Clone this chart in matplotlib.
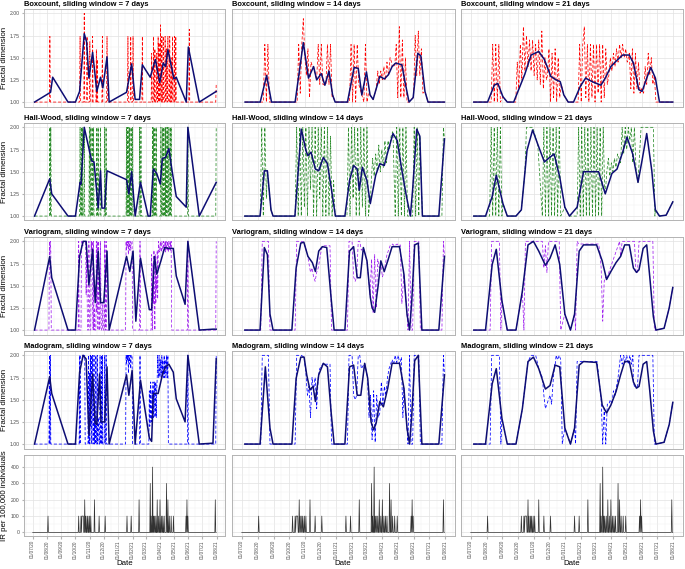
import numpy as np
import matplotlib.pyplot as plt
import matplotlib.dates as mdates
from datetime import datetime

plt.rcParams['font.family'] = ['Liberation Sans', 'DejaVu Sans']

START = mdates.date2num(datetime(2020, 7, 1))   # day 0
LAST_DAY = 395

# ---- incidence rate (per 100,000), days since 01/07/20 with a non-zero value
IR_DAYS = [33, 99, 104, 106, 107, 108, 109, 112, 114, 117, 119, 122, 125, 133, 143,
           156, 203, 212, 229, 253, 255, 258, 260, 262, 265, 268, 271, 274, 277,
           280, 283, 288, 291, 294, 298, 303, 330, 332, 334, 393]
IR_VALUES = [100, 100, 100, 100, 100, 100, 100, 200, 100, 100, 100, 100, 100, 200, 100,
             100, 100, 100, 200, 300, 100, 400, 100, 100, 100, 200, 100, 200, 100,
             100, 100, 300, 200, 100, 100, 100, 100, 200, 100, 200]

# ---- smoothed fractal dimension (solid navy line): (day, value)
BOX7_MEAN = [(4, 1.0), (38.5, 1.11), (43, 1.28), (76, 1.0), (92, 1.0), (101, 1.12), (111, 1.77),
             (116, 1.68), (121, 1.27), (129, 1.56), (138, 1.12), (146, 1.28), (151, 1.16), (160, 1.51),
             (164.5, 1.0), (202, 1.11), (213, 1.43), (220.5, 1.03), (230, 1.03), (236, 1.42),
             (253, 1.28), (264, 1.48), (273.5, 1.22), (281, 1.44), (286, 1.40), (291, 1.59),
             (304, 1.26), (309, 1.28), (330.5, 1.0), (335, 1.62), (358.5, 1.0), (395, 1.12)]
BOX14_MEAN = [(6.5, 1.0), (36, 1.0), (48.5, 1.30), (58, 1.0), (104, 1.0), (120, 1.67), (130, 1.27),
              (140, 1.40), (146, 1.25), (155, 1.32), (162, 1.19), (170, 1.35), (177, 1.08), (182, 1.0),
              (206, 1.0), (219, 1.39), (227, 1.38), (234, 1.08), (243, 1.34), (250, 1.08), (256, 1.03),
              (269, 1.29), (278, 1.26), (286, 1.31), (293, 1.40), (300, 1.44), (306, 1.43), (312, 1.42),
              (318, 1.23), (326, 1.0), (334, 1.05), (343, 1.55), (349, 1.52), (357, 1.12), (363, 1.0),
              (395, 1.0)]
BOX21_MEAN = [(6, 1.0), (33, 1.0), (46, 1.19), (53, 1.21), (63, 1.06), (71.5, 1.0), (84, 1.0),
              (105.5, 1.31), (118, 1.53), (133, 1.57), (144, 1.48), (156.5, 1.29), (167, 1.25),
              (175, 1.23), (182, 1.08), (190.5, 1.0), (201, 1.0), (214.5, 1.18), (224.5, 1.27),
              (237.5, 1.23), (246, 1.21), (254.5, 1.19), (263, 1.27), (274, 1.40), (284, 1.46),
              (297, 1.53), (310, 1.53), (318, 1.44), (328.5, 1.14), (335, 1.12), (344, 1.27),
              (352, 1.39), (361, 1.27), (369, 1.0), (395, 1.0)]
HW7_MEAN = [(4, 1.0), (36.7, 1.42), (41, 1.25), (76, 1.0), (92, 1.0), (102, 1.38), (104, 1.36),
            (111, 2.0), (127, 1.62), (132, 1.61), (141, 1.09), (146, 1.51), (149, 1.09), (155, 1.09),
            (160, 1.51), (202, 1.41), (207, 1.25), (213, 1.50), (220.5, 1.0), (232, 1.38),
            (248.5, 1.0), (253, 1.0), (259.6, 1.53), (267, 1.48), (274.6, 1.36), (279, 1.65),
            (286, 1.66), (293, 1.76), (300, 1.51), (309, 1.22), (330.5, 1.10), (334, 2.0),
            (358.5, 1.0), (395, 1.38)]
HW14_MEAN = [(6, 1.0), (35.7, 1.0), (44, 1.51), (50, 1.51), (57, 1.07), (61, 1.0), (103.6, 1.0),
             (116, 1.98), (121, 1.85), (125, 1.74), (129, 1.68), (135, 1.72), (143.5, 1.53), (150, 1.51),
             (159, 1.66), (167, 1.59), (174, 1.33), (182.6, 1.0), (201, 1.0), (210, 1.40), (218, 1.57),
             (225, 1.53), (229, 1.29), (235, 1.55), (244, 1.40), (250.5, 1.14), (261, 1.46),
             (269, 1.59), (277.7, 1.57), (284.5, 1.72), (294.7, 1.93), (303, 1.85), (311.6, 1.53),
             (320, 1.25), (328.6, 1.0), (333, 1.3), (341, 1.98), (347, 1.9), (352, 1.0), (384, 1.0),
             (395, 1.87)]
HW21_MEAN = [(6, 1.0), (29, 1.0), (42, 1.22), (50, 1.46), (63, 1.14), (71.5, 1.0), (88.5, 1.0),
             (99, 1.07), (110, 1.74), (121, 1.97), (131, 1.81), (144, 1.61), (152, 1.65), (163, 1.70),
             (174, 1.44), (184, 1.10), (193, 1.0), (208, 1.10), (220.5, 1.50), (233, 1.50), (250, 1.50),
             (263, 1.25), (276, 1.48), (286, 1.53), (297, 1.72), (305.5, 1.89), (316.6, 1.70),
             (327, 1.38), (335, 1.63), (344, 1.93), (354, 1.51), (361, 1.07), (369, 1.0),
             (382, 1.01), (395, 1.16)]
VAR7_MEAN = [(4, 1.0), (36.7, 1.83), (41, 1.59), (76, 1.0), (92, 1.0), (101, 1.83), (108.5, 2.0),
             (115, 2.0), (121, 1.51), (129, 1.91), (134.6, 1.31), (141, 1.89), (146, 1.31), (153, 1.31),
             (160, 1.89), (164.5, 1.0), (202, 1.83), (209, 1.66), (216, 1.89), (222, 1.10), (232, 1.81),
             (251, 1.23), (256, 1.23), (262, 1.83), (267, 1.63), (276, 1.78), (284, 1.93), (293, 1.92),
             (302.6, 1.92), (309, 1.61), (328, 1.29), (334, 2.0), (358.5, 1.0), (388, 1.01),
             (395, 1.01)]
VAR14_MEAN = [(6, 1.0), (35.7, 1.0), (44, 1.93), (50, 1.85), (55, 1.18), (61, 1.0), (97.7, 1.0),
              (106, 1.70), (115, 1.98), (121, 1.99), (129, 1.83), (137.6, 1.76), (143.5, 1.66),
              (150, 1.89), (157, 1.94), (165.6, 1.93), (174, 1.37), (180, 1.0), (201, 1.0),
              (210, 1.89), (218, 1.94), (225, 1.59), (231, 1.59), (237, 1.93), (244, 1.78),
              (250.5, 1.37), (254, 1.25), (259, 1.20), (266, 1.51), (271, 1.78), (277.7, 1.66),
              (284.5, 1.78), (293, 1.94), (307.4, 1.94), (316, 1.63), (322, 1.18), (327, 1.0),
              (331, 1.3), (337, 1.96), (344, 1.98), (351, 1.0), (384, 1.0), (395, 1.83)]
VAR21_MEAN = [(6, 1.0), (29, 1.0), (42, 1.74), (50, 1.91), (61, 1.33), (71.5, 1.0), (88.5, 1.0),
              (101, 1.44), (112, 1.96), (122.6, 2.0), (133, 1.89), (146, 1.73), (155, 1.81),
              (165, 1.96), (174, 1.74), (184, 1.18), (195, 1.0), (203, 1.18), (212, 1.89),
              (220.5, 1.96), (246, 1.96), (257, 1.78), (265.6, 1.57), (274, 1.66), (284, 1.76),
              (293, 1.83), (301, 1.96), (310, 1.96), (318, 1.70), (324, 1.65), (329, 1.68),
              (337, 1.92), (344, 1.96), (350, 1.6), (357, 1.15), (362, 1.0), (378, 1.02),
              (388, 1.25), (395, 1.48)]
MAD7_MEAN = [(4, 1.0), (36.7, 1.76), (41, 1.57), (76, 1.0), (92, 1.0), (101, 1.81), (108.5, 2.0),
             (115, 1.96), (121, 1.10), (129, 1.79), (134.6, 1.23), (138, 1.22), (144, 1.79),
             (147, 1.25), (155, 1.25), (160, 1.87), (164.5, 1.0), (202, 1.78), (207, 1.55),
             (214, 1.83), (220.5, 1.0), (232, 1.72), (251, 1.07), (256, 1.03), (259.6, 1.57),
             (270, 1.57), (280, 1.80), (286, 1.87), (293, 1.90), (302.6, 1.81), (309, 1.51),
             (328, 1.25), (334, 2.0), (358.5, 1.0), (388, 1.01), (395, 1.96)]
MAD14_MEAN = [(6, 1.0), (35.7, 1.0), (46, 1.87), (55, 1.18), (61, 1.0), (97.7, 1.0), (106, 1.74),
              (115, 1.98), (121.5, 1.98), (126.6, 1.78), (133, 1.61), (139, 1.65), (143.5, 1.48),
              (150, 1.78), (159, 1.91), (167, 1.87), (174, 1.37), (180, 1.0), (201, 1.0),
              (210, 1.87), (218, 1.89), (225, 1.55), (232, 1.55), (239.5, 1.91), (245.5, 1.74),
              (252, 1.25), (257, 1.16), (262, 1.24), (269, 1.48), (276, 1.42), (284.5, 1.63),
              (293, 1.91), (307.4, 1.91), (316, 1.63), (322, 1.18), (327, 1.0), (331, 1.3),
              (337, 1.94), (344, 2.0), (351, 1.0), (384, 1.0), (395, 1.78)]
MAD21_MEAN = [(6, 1.0), (29, 1.0), (42, 1.68), (50, 1.85), (61, 1.29), (71.5, 1.0), (88.5, 1.0),
              (101, 1.40), (112, 1.93), (122.6, 1.98), (133, 1.85), (146, 1.62), (155, 1.66),
              (165, 1.89), (174, 1.87), (184, 1.18), (195, 1.0), (203, 1.18), (212, 1.89),
              (220.5, 1.93), (246, 1.92), (257, 1.44), (265.6, 1.35), (274, 1.44), (284, 1.59),
              (293, 1.78), (301, 1.93), (310, 1.93), (318, 1.70), (324, 1.63), (329, 1.65),
              (337, 1.90), (344, 1.93), (350, 1.6), (357, 1.15), (362, 1.0), (378, 1.02),
              (388, 1.22), (395, 1.47)]

# ---- unsmoothed fractal dimension (dashed line): runs of (first day, values),
# one value per day in the 7-day column, one per 3 days in the 14/21-day columns
BOX7_RAW = [(4, [1.0]), (36, [1.0, 1.74, 1.0]), (101, [1.0, 1.74, 1.0]), (110, [1.0, 2.0, 1.0]),
            (116, [1.0, 1.74, 1.0]), (122, [1.0, 1.68, 1.0]), (128, [1.0, 1.74, 1.0]),
            (136, [1.0, 1.59, 1.0, 1.48, 1.0]), (149, [1.0, 1.74, 1.0]), (159, [1.0, 1.74, 1.0]),
            (204, [1.0, 1.74, 1.0]), (210, [1.0, 1.74, 1.0]), (215, [1.0, 1.74, 1.0]),
            (235, [1.0, 1.74, 1.0]),
            (255, [1.0, 1.55, 1.0, 1.0, 1.0, 1.74, 1.0, 1.0, 1.6, 1.0, 1.0, 1.0, 1.55, 1.0, 1.0,
                   1.74, 1.0, 1.67, 1.0, 1.0, 1.87, 1.0, 1.0, 1.74, 1.0, 1.0, 1.74, 1.0, 1.0, 1.0,
                   1.74, 1.0, 1.0, 1.6, 1.0, 1.0, 1.74, 1.0, 1.0, 1.0, 1.74, 1.0, 1.0, 1.5, 1.0,
                   1.0, 1.74, 1.0, 1.0, 1.0, 1.74, 1.0, 1.0, 1.74, 1.0]),
            (336, [1.0, 1.82, 1.0]), (394, [1.0, 1.21])]
BOX14_RAW = [(42, [1.0, 1.65, 1.0, 1.65, 1.0]),
             (108, [1.0, 1.65, 1.1, 1.65, 1.94, 1.5, 1.3, 1.6, 1.05, 1.45, 1.4]),
             (146, [1.25, 1.65, 1.2, 1.65, 1.2]),
             (164, [1.2, 1.65, 1.2, 1.65, 1.05]),
             (210, [1.0, 1.65, 1.0, 1.65, 1.0, 1.65, 1.2]),
             (238, [1.0, 1.65, 1.0, 1.1]),
             (262, [1.15, 1.35, 1.2, 1.35, 1.25, 1.4, 1.25, 1.45, 1.3, 1.5, 1.45]),
             (298, [1.4, 1.65, 1.05, 1.85, 1.05, 1.7, 1.05, 1.5, 1.0]),
             (335, [1.1, 1.75, 1.3, 1.8, 1.3, 1.6, 1.1])]
BOX21_RAW = [(40, [1.0, 1.65, 1.0, 1.65, 1.0, 1.65, 1.0]),
             (88, [1.0, 1.45, 1.15, 1.65, 1.25, 1.85, 1.35, 1.75, 1.4, 1.7, 1.35, 1.7, 1.3, 1.65,
                   1.25, 1.7, 1.2, 1.8, 1.15, 1.5, 1.25]),
             (150, [1.3, 1.6, 1.0, 1.55, 1.05, 1.6, 1.0, 1.5, 1.05, 1.2]),
             (210, [1.0, 1.65, 1.0, 1.65, 1.85, 1.05, 1.65, 1.0, 1.65, 1.05, 1.65, 1.0, 1.65, 1.1,
                    1.65, 1.0, 1.65, 1.05, 1.6, 1.2]),
             (270, [1.3, 1.5, 1.35, 1.55, 1.4, 1.6, 1.45, 1.65, 1.5, 1.65, 1.5, 1.6, 1.45]),
             (310, [1.55, 1.15, 1.6, 1.1, 1.55, 1.15, 1.45, 1.1, 1.15]),
             (338, [1.1, 1.4, 1.2, 1.55, 1.3, 1.5, 1.2, 1.3, 1.0])]
HW7_RAW = [(4, [1.0]), (36, [1.0, 2.0, 1.0, 2.0, 1.0]), (101, [1.0, 2.0, 1.0, 1.0, 2.0, 1.0, 2.0, 1.0]),
           (110, [1.0, 2.0, 1.0]),
           (121, [1.0, 2.0, 1.0, 1.0, 2.0, 1.0, 1.0, 2.0, 1.0, 1.0, 2.0, 1.0]),
           (137, [1.0, 2.0, 1.0, 1.0, 2.0, 1.0]), (145, [1.0, 2.0, 1.0]),
           (154, [1.0, 2.0, 1.0, 1.0, 2.0, 1.0]),
           (201, [1.0, 2.0, 1.0, 2.0, 1.0, 1.0, 2.0, 1.0, 2.0, 1.0, 1.0, 2.0, 1.0, 1.0, 2.0, 1.0]),
           (229, [1.0, 2.0, 1.0, 1.0, 2.0, 1.0]),
           (257, [1.0, 2.0, 1.0, 2.0, 1.0, 1.0, 2.0, 1.0, 1.0, 2.0, 1.0]),
           (275, [1.0, 2.0, 1.0, 1.0, 2.0, 1.0, 1.0, 2.0, 1.0, 1.0, 2.0, 1.0, 2.0, 1.0, 1.0, 2.0,
                  1.0, 1.0, 2.0, 1.0, 1.0, 2.0, 1.0, 2.0, 1.0]),
           (333, [1.0, 2.0, 1.0]), (394, [1.0, 2.0])]
HW14_RAW = [(36, [1.0, 2.0, 1.0, 2.0, 1.2]),
            (104, [1.0, 2.0, 1.0, 2.0, 1.0, 2.0, 1.1, 2.0, 1.0, 2.0, 1.3, 2.0, 1.0, 2.0, 1.0, 2.0,
                   1.2, 2.0, 1.0, 2.0, 1.0, 2.0, 1.0, 1.9, 1.0, 1.4, 1.0]),
            (205, [1.0, 2.0, 1.0, 2.0, 1.2, 2.0, 1.0, 2.0, 1.0, 2.0, 1.1, 2.0, 1.0, 2.0, 1.0, 1.2]),
            (252, [1.35, 1.65, 1.45, 1.7, 1.5, 1.8, 1.5, 1.75, 1.55, 1.85, 1.6, 1.85, 1.75, 1.9, 1.95]),
            (299, [1.0, 2.0, 1.0, 2.0, 1.0, 2.0, 1.0, 2.0, 1.0]),
            (333, [1.0, 2.0, 1.0, 2.0, 1.0]),
            (390, [1.0, 2.0])]
HW21_RAW = [(37, [1.0, 2.0, 1.0, 2.0, 1.0, 2.0, 1.0, 2.0, 1.0]),
            (106, [1.5, 2.0, 2.0, 2.0, 2.0, 2.0]),
            (140, [1.0, 2.0, 1.0, 2.0, 1.0, 2.0, 1.0, 2.0, 1.0, 2.0, 1.0, 2.0, 1.0]),
            (208, [1.0, 2.0, 1.0, 2.0, 1.0, 2.0, 1.0, 2.0, 1.0, 2.0, 1.0, 2.0, 1.0, 2.0, 1.0, 2.0,
                   1.0, 2.0, 1.25]),
            (266, [1.5, 1.65, 1.45, 1.6, 1.5, 1.65, 1.55, 1.7, 1.65]),
            (293, [1.6, 2.0, 1.7, 2.0, 1.75, 2.0, 1.85, 2.0, 1.6, 2.0, 1.55, 1.4]),
            (333, [2.0, 2.0, 2.0, 2.0, 2.0, 2.0, 2.0, 2.0, 2.0, 1.0])]
VAR7_RAW = [(4, [1.0]), (35, [1.0, 2.0, 1.85, 2.0, 1.9, 1.0]), (98, [1.0, 2.0, 1.0]),
            (104, [1.0, 2.0, 2.0, 2.0, 1.95, 2.0, 2.0, 2.0, 2.0, 2.0, 2.0, 1.4, 2.0, 1.45, 1.0]),
            (120, [1.0, 2.0, 1.4, 1.0]), (125, [1.0, 2.0, 1.9, 2.0, 1.3, 1.0, 2.0, 1.0, 1.25, 1.0]),
            (136, [1.0, 2.0, 1.2, 2.0, 1.0]), (141, [1.0, 2.0, 1.3, 1.0]), (145, [1.0, 2.0, 1.3, 1.0]),
            (150, [1.0, 1.3, 1.0]), (154, [1.0, 2.0, 1.0, 1.0, 2.0, 1.0]),
            (200, [1.0, 2.0, 1.9, 2.0, 1.95, 2.0, 1.85, 2.0, 1.9, 2.0, 2.0, 1.9, 2.0, 2.0, 2.0, 1.0]),
            (230, [1.0, 2.0, 1.0]),
            (255, [1.0, 1.85, 1.2, 1.0, 1.75, 1.3, 1.9, 1.25, 1.0, 1.85, 1.3, 1.6, 1.45, 1.9, 1.35,
                   1.8, 2.0, 1.9, 1.88, 1.95, 2.0, 1.9, 1.88, 2.0, 1.95, 1.9, 1.88, 2.0, 1.92, 1.9,
                   2.0, 1.88, 2.0, 1.95, 1.9, 2.0, 1.9, 1.88, 2.0, 1.9, 1.95, 2.0, 1.9, 2.0, 1.0]),
            (333, [1.0, 2.0, 1.0]), (394, [1.0, 2.0])]
VAR14_RAW = [(37, [1.0, 2.0, 2.0, 2.0, 2.0, 2.0, 1.0]),
             (104, [1.0, 2.0, 2.0, 2.0, 2.0]),
             (128, [1.85, 1.75, 1.65, 1.7, 1.6, 1.55, 1.65, 1.7, 1.8, 1.9]),
             (160, [1.95, 1.95, 1.95, 1.95, 1.95, 1.0]),
             (206, [1.0, 2.0, 2.0, 2.0, 1.6, 1.55, 1.6, 2.0, 2.0, 1.9]),
             (250, [1.4, 1.8, 1.2, 1.85, 1.25, 1.8, 1.7]),
             (271, [1.75, 1.6, 1.65, 1.75, 1.85, 1.9, 1.95]),
             (291, [1.95, 1.97, 1.95, 1.96, 1.97, 1.95, 1.96, 1.3]),
             (324, [1.0, 2.0, 1.0, 1.0, 2.0, 2.0, 2.0, 2.0, 1.0]),
             (390, [1.0, 2.0])]
VAR21_RAW = [(38, [1.0, 2.0, 2.0, 2.0, 2.0, 2.0, 2.0, 1.0]),
             (104, [1.0, 2.0, 2.0, 2.0, 2.0, 2.0, 2.0, 2.0, 2.0, 2.0, 2.0, 2.0, 2.0, 1.7, 1.95, 1.65,
                    2.0, 2.0, 2.0, 2.0, 2.0, 2.0, 2.0, 2.0, 1.0]),
             (205, [1.0, 2.0, 1.97, 1.97, 1.97, 1.97, 1.97, 1.97, 1.97, 1.97, 1.97, 1.97, 1.97, 1.97,
                    1.97, 1.97]),
             (252, [1.9, 1.7, 1.1, 1.55, 1.6]),
             (270, [1.65, 1.7, 1.75, 1.8, 1.85, 1.9, 1.95, 2.0]),
             (296, [2.0, 2.0, 2.0, 2.0, 2.0, 2.0, 2.0, 2.0, 2.0, 1.65, 1.65, 2.0, 2.0, 2.0, 2.0, 2.0,
                    2.0, 2.0, 2.0, 2.0, 2.0, 1.0])]
MAD7_RAW = [(4, [1.0]), (35, [1.0, 2.0, 1.0, 2.0, 1.0]),
            (100, [1.0, 2.0, 1.0, 2.0, 2.0, 2.0, 2.0, 2.0, 2.0, 2.0, 2.0, 2.0, 2.0, 1.0]),
            (119, [1.0, 2.0, 1.0, 1.8, 1.0, 2.0, 1.2, 2.0, 1.0, 1.3, 2.0, 1.0, 1.25, 2.0, 1.0, 1.3,
                   1.0, 2.0, 1.25, 1.0, 2.0, 1.0, 1.3, 1.25, 1.0, 1.0, 2.0, 1.0, 1.0, 2.0, 1.0, 2.0,
                   1.0]),
            (154, [1.0, 2.0, 1.0, 1.0, 2.0, 1.0]),
            (200, [1.0, 2.0, 1.9, 2.0, 1.95, 2.0, 1.8, 2.0, 1.9, 2.0, 2.0, 1.85, 2.0, 2.0, 2.0, 1.0]),
            (230, [1.0, 2.0, 1.0]),
            (250, [1.0, 1.6, 1.2, 1.25, 1.7, 1.3, 1.25, 1.6, 1.35, 1.7, 1.3, 1.4, 1.7, 1.3, 1.35,
                   1.7, 1.3, 1.6, 1.75, 2.0, 1.8, 1.75, 2.0, 1.8, 1.75, 1.95, 1.8, 1.75, 2.0, 1.8,
                   1.95, 1.75, 1.8, 2.0, 1.75, 1.95, 1.8, 1.75, 2.0, 1.8, 1.75, 2.0, 1.0]),
            (333, [1.0, 2.0, 1.0]), (394, [1.0, 2.0])]
MAD14_RAW = [(37, [1.0, 2.0, 2.0, 2.0, 2.0, 2.0, 1.0]),
             (104, [1.0, 2.0, 2.0, 2.0, 2.0]),
             (125, [1.8, 1.55, 1.65, 1.3, 1.75, 1.6, 1.75, 1.4, 1.75, 1.85]),
             (160, [1.9, 1.9, 1.9, 1.9, 1.9, 1.0]),
             (206, [1.0, 2.0, 2.0, 2.0, 1.55, 1.5, 1.55, 2.0, 2.0, 1.85]),
             (245, [1.75, 1.3, 1.55, 1.05, 1.6, 1.02, 1.55, 1.3]),
             (269, [1.35, 1.7, 1.45, 1.65, 1.55, 1.75, 1.85, 1.9, 1.95]),
             (296, [1.9, 2.0, 1.92, 2.0, 1.9, 1.98, 1.3]),
             (324, [1.0, 2.0, 1.0, 1.0, 2.0, 2.0, 2.0, 2.0, 1.0]),
             (390, [1.0, 2.0])]
MAD21_RAW = [(38, [1.0, 2.0, 2.0, 2.0, 2.0, 2.0, 2.0, 1.0]),
             (118, [2.0, 2.0, 2.0, 2.0]),
             (140, [1.75, 1.55, 1.4, 1.45, 1.5, 1.55, 1.45, 1.7, 1.9]),
             (167, [2.0, 1.95, 2.0, 1.95, 1.0]),
             (205, [1.0, 1.93, 1.93, 1.93, 1.93, 1.93, 1.93, 1.93, 1.93, 1.93, 1.93, 1.93, 1.93,
                    1.93, 1.93]),
             (255, [1.5, 1.0, 1.4, 1.0, 1.45]),
             (270, [1.45, 1.5, 1.45, 1.6, 1.55, 1.65, 1.75, 1.9]),
             (293, [2.0, 1.9, 2.0, 1.92, 2.0, 1.9, 2.0, 1.9, 2.0]),
             (320, [1.65, 1.65, 1.65]),
             (329, [2.0, 2.0, 2.0, 2.0, 2.0, 2.0, 2.0, 2.0, 2.0, 2.0, 1.0])]

METHODS = ['Boxcount', 'Hall-Wood', 'Variogram', 'Madogram']
WINDOWS = [7, 14, 21]
RAW_STEP = {7: 1, 14: 3, 21: 3}
RAW_COLORS = ['red', '#2a8c2a', '#a020f0', 'blue']
MEANS = [[BOX7_MEAN, BOX14_MEAN, BOX21_MEAN], [HW7_MEAN, HW14_MEAN, HW21_MEAN],
         [VAR7_MEAN, VAR14_MEAN, VAR21_MEAN], [MAD7_MEAN, MAD14_MEAN, MAD21_MEAN]]
RAWS = [[BOX7_RAW, BOX14_RAW, BOX21_RAW], [HW7_RAW, HW14_RAW, HW21_RAW],
        [VAR7_RAW, VAR14_RAW, VAR21_RAW], [MAD7_RAW, MAD14_RAW, MAD21_RAW]]


def raw_series(runs, step, mean, fill_from_mean):
    xs, ys = [], []
    for first, vals in runs:
        xs += [first + step * i for i in range(len(vals))]
        ys += list(vals)
    if fill_from_mean:
        # outside the listed runs the raw series sits under the smoothed line
        spans = [(f, f + step * (len(v) - 1)) for f, v in runs]
        for d, v in mean:
            if not any(a <= d <= b for a, b in spans):
                xs.append(d)
                ys.append(v)
    order = np.argsort(xs, kind='stable')
    return START + np.array(xs, float)[order], np.array(ys, float)[order]


# ---- layout in pixels of the 685 x 569 output
W, H = 685, 569
COLS = [(23.5, 225.4), (231.6, 454.6), (460.6, 682.9)]
ROWS = [(8.9 + 114 * k, 106.5 + 114 * k) for k in range(4)]
IR_ROW = (455, 536)
XLIM = (START - 19.75, START + LAST_DAY + 19.75)
TICK_GREY = '#4d4d4d'

fig = plt.figure(figsize=(6.85, 5.69), dpi=100)
fig.patch.set_facecolor('white')


def panel(col, row):
    x0, x1 = col
    y0, y1 = row
    ax = fig.add_axes([x0 / W, 1 - y1 / H, (x1 - x0) / W, (y1 - y0) / H])
    for s in ax.spines.values():
        s.set_color('#b3b3b3')
        s.set_linewidth(0.7)
    ax.set_xlim(*XLIM)
    ax.xaxis.set_major_locator(mdates.MonthLocator())
    ax.xaxis.set_minor_locator(mdates.MonthLocator(bymonthday=16))
    ax.xaxis.set_major_formatter(mdates.DateFormatter('%d/%m/%y'))
    ax.grid(which='major', color='#e2e2e2', linewidth=0.5)
    ax.grid(which='minor', color='#f0f0f0', linewidth=0.35)
    ax.set_axisbelow(True)
    ax.tick_params(which='both', length=0, labelsize=3.7, colors=TICK_GREY, pad=1.2)
    ax.tick_params(which='major', length=1.8, color='#b3b3b3')
    return ax


for r, method in enumerate(METHODS):
    for c, w in enumerate(WINDOWS):
        ax = panel(COLS[c], ROWS[r])
        mean = MEANS[r][c]
        rx, ry = raw_series(RAWS[r][c], RAW_STEP[w], mean, fill_from_mean=(w != 7))
        ax.plot(rx, ry, color=RAW_COLORS[r], linewidth=0.55, dashes=(4, 2.5))
        mx = START + np.array([d for d, _ in mean])
        my = np.array([v for _, v in mean])
        ax.plot(mx, my, color='#0d0d73', linewidth=1.1, solid_joinstyle='round')
        ax.set_ylim(0.95, 2.05)
        ax.set_yticks([1.0, 1.25, 1.5, 1.75, 2.0])
        ax.set_yticks([1.125, 1.375, 1.625, 1.875], minor=True)
        ax.set_yticklabels(['1.00', '1.25', '1.50', '1.75', '2.00'])
        ax.tick_params(axis='x', which='both', length=0, labelbottom=False)
        if c == 0:
            ax.set_ylabel('Fractal dimension', fontsize=5.7, color='black')
            ax.yaxis.set_label_coords(-0.078, 0.5)
        else:
            ax.tick_params(axis='y', which='both', length=0, labelleft=False)
        ax.set_title(f'{method}, sliding window = {w} days', loc='left',
                     fontsize=5.4, fontweight='bold', pad=1.8)

ir = np.zeros(LAST_DAY + 1)
ir[IR_DAYS] = IR_VALUES
ir_x = START + np.arange(LAST_DAY + 1)

for c in range(3):
    ax = panel(COLS[c], IR_ROW)
    ax.plot(ir_x, ir, color='black', linewidth=0.5, alpha=0.8)
    ax.set_ylim(-22, 474)
    ax.set_yticks([0, 100, 200, 300, 400])
    ax.set_yticks([50, 150, 250, 350], minor=True)
    ax.tick_params(axis='x', which='major', labelsize=3.4, labelrotation=90)
    ax.set_xlabel('Date', fontsize=5.7, color='black')
    ax.xaxis.set_label_coords(0.5, -0.3)
    if c == 0:
        ax.set_ylabel('IR per 100,000 individuals', fontsize=5.7, color='black')
        ax.yaxis.set_label_coords(-0.078, 0.5)
    else:
        ax.tick_params(axis='y', which='both', length=0, labelleft=False)

fig.savefig('out.png', dpi=100, facecolor='white')
